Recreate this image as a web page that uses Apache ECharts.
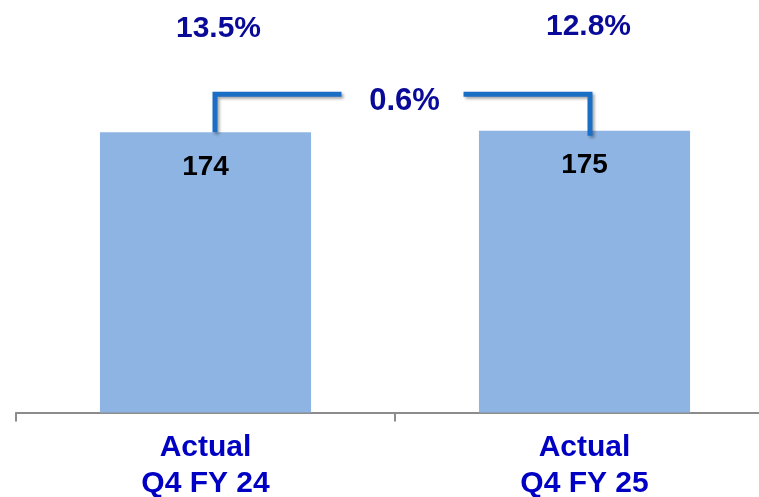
<!DOCTYPE html>
<html>
<head>
<meta charset="utf-8">
<script src="https://cdn.jsdelivr.net/npm/echarts@6/dist/echarts.min.js"></script>
<style>html,body{margin:0;padding:0;background:#fff}#c{width:759px;height:497px}</style>
</head>
<body>
<div id="c"></div>
<script>
var categories = ["Actual\nQ4 FY 24", "Actual\nQ4 FY 25"];
var values = [174, 175];
var marginLabels = ["13.5%", "12.8%"];
var changeLabel = "0.6%";

var chart = echarts.init(document.getElementById('c'), null, {renderer: 'canvas'});
var FONT = '"Liberation Sans", Arial, sans-serif';
var bracketColor = '#1B6EC6';

function renderBracket(params, api) {
  var p0 = api.coord([0, values[0]]);
  var p1 = api.coord([1, values[1]]);
  var x0 = p0[0] + 9.5, x1 = p1[0] + 5.5;
  var by = p0[1] - 38;
  var cx = (x0 + x1) / 2;
  var gap = 61;
  var lineStyle = {
    stroke: bracketColor, lineWidth: 5, fill: null,
    shadowBlur: 3, shadowOffsetX: 2, shadowOffsetY: 2, shadowColor: 'rgba(0,0,0,0.35)'
  };
  return {
    type: 'group',
    children: [
      {type: 'polyline', shape: {points: [[x0, p0[1]], [x0, by], [cx - gap, by]]}, style: lineStyle},
      {type: 'polyline', shape: {points: [[cx + gap, by], [x1, by], [x1, p1[1] + 5]]}, style: lineStyle},
      {type: 'text', style: {text: changeLabel, x: cx + 2, y: by + 7, align: 'center', verticalAlign: 'middle',
        fill: '#0A0A99', font: 'bold 31px ' + FONT}},
      {type: 'text', style: {text: marginLabels[0], x: x0 + 3.5, y: p0[1] - 104, align: 'center', verticalAlign: 'middle',
        fill: '#0A0A99', font: 'bold 30px ' + FONT}},
      {type: 'text', style: {text: marginLabels[1], x: x1 - 1.5, y: p1[1] - 104, align: 'center', verticalAlign: 'middle',
        fill: '#0A0A99', font: 'bold 30px ' + FONT}}
    ]
  };
}

chart.setOption({
  animation: false,
  grid: {left: 16, width: 758, top: 10, bottom: 84.5, containLabel: false, outerBoundsMode: 'none'},
  xAxis: {
    type: 'category',
    data: categories,
    axisLine: {show: true, lineStyle: {color: '#8C8C8C', width: 2}},
    axisTick: {show: true, length: 9, interval: 0, lineStyle: {color: '#8C8C8C', width: 2}},
    axisLabel: {color: '#0000C4', fontFamily: FONT, fontWeight: 'bold', fontSize: 30, lineHeight: 36, margin: 17}
  },
  yAxis: {type: 'value', min: 0, max: 250, show: false, splitLine: {show: false}},
  series: [
    {
      type: 'bar',
      data: values,
      barWidth: '55.7%',
      itemStyle: {color: '#8EB4E3'},
      label: {show: true, position: 'insideTop', distance: 21, color: '#000', fontFamily: FONT,
        fontWeight: 'bold', fontSize: 28, lineHeight: 28}
    },
    {
      type: 'custom',
      data: [[0]],
      renderItem: renderBracket,
      z: 5
    }
  ]
});
</script>
</body>
</html>
